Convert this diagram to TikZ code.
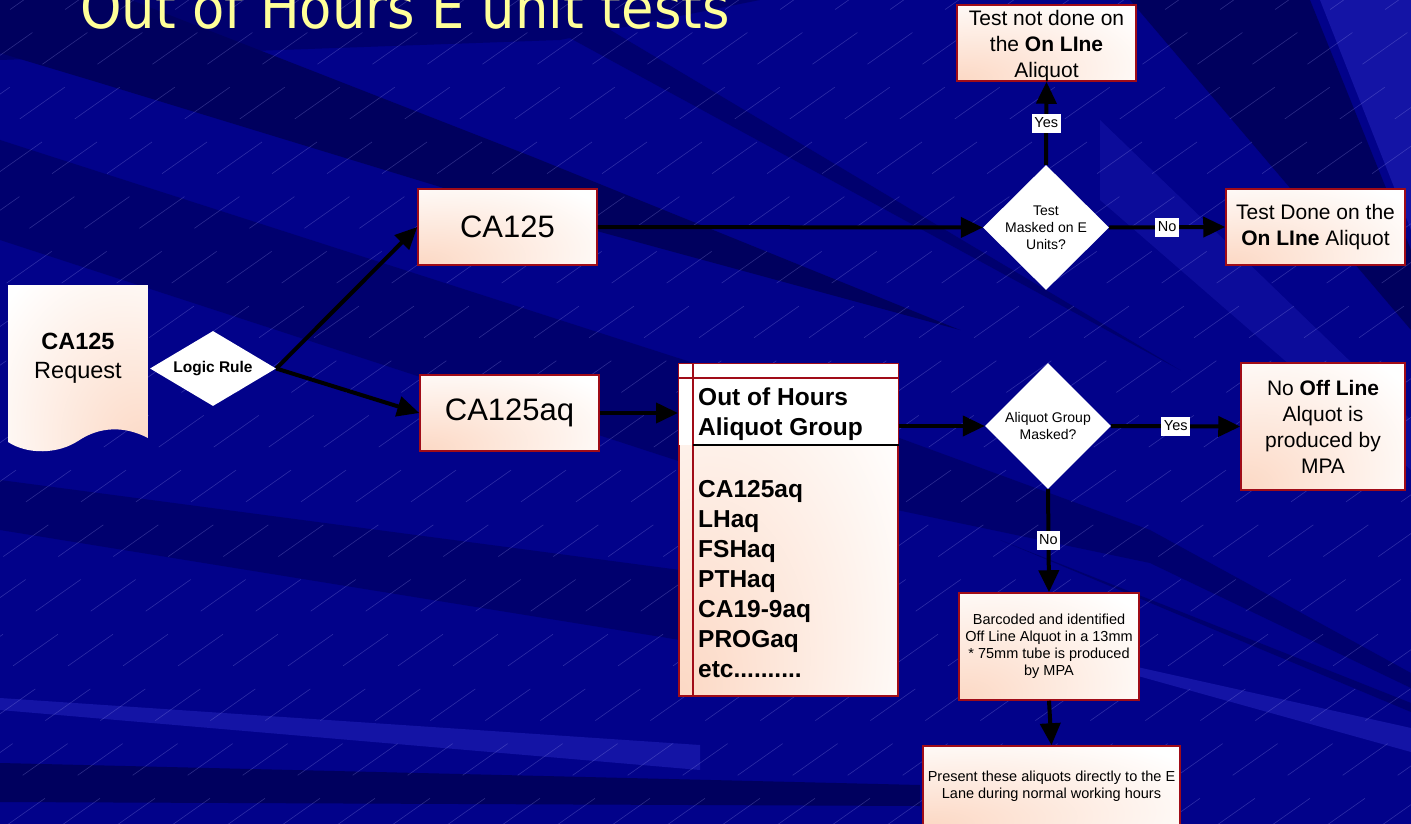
\documentclass[tikz,border=0pt]{standalone}
\usepackage{fontspec}
\setmainfont{Liberation Sans}
\newfontfamily\headfont{DejaVu Sans}
\usetikzlibrary{shapes.geometric,arrows.meta}

\definecolor{bgmid}{RGB}{2,2,138}
\definecolor{bgdark}{RGB}{0,0,110}
\definecolor{bgdeep}{RGB}{0,0,94}
\definecolor{bglite}{RGB}{20,20,165}
\definecolor{streak}{RGB}{160,160,240}
\definecolor{peach}{RGB}{252,216,196}
\definecolor{boxred}{RGB}{160,12,24}
\definecolor{titleyellow}{RGB}{255,255,153}

% soft peach glow from one corner of a box
\pgfdeclareradialshading{glowbl}{\pgfpoint{-25bp}{-25bp}}{color(0bp)=(peach); color(48bp)=(white); color(100bp)=(white)}
\pgfdeclareradialshading{glowbr}{\pgfpoint{25bp}{-25bp}}{color(0bp)=(peach); color(50bp)=(white); color(100bp)=(white)}

\tikzset{
  box/.style={rectangle, draw=boxred, line width=1.5pt, shade, shading=glowbl,
              inner sep=2pt, align=center, text=black},
  dia/.style={diamond, fill=white, inner sep=0pt},
  dtxt/.style={align=center, font=\fontsize{14}{17}\selectfont, inner sep=0pt},
  flow/.style={line width=4pt, -{Triangle[length=22pt,width=20pt]}},
  lbl/.style={fill=white, inner xsep=2.5pt, inner ysep=3pt, text height=10.5pt,
              text depth=3pt, font=\fontsize{14.5}{16}\selectfont},
  listtxt/.style={font=\bfseries\fontsize{24.5}{30}\selectfont, inner sep=0pt, anchor=base west},
  bigtxt/.style={font=\fontsize{21}{26}\selectfont},
  smalltxt/.style={font=\fontsize{14.5}{17}\selectfont},
  streaks/.style={draw=streak, line width=0.6pt, opacity=0.28, dash pattern=on 55pt off 40pt},
}

\begin{document}
\begin{tikzpicture}[x=1pt,y=-1pt]
\useasboundingbox (0,0) rectangle (1411,824);

% backdrop: navy with darker and lighter swathes and fine diagonal hatching
\begin{scope}
  \clip (0,0) rectangle (1411,824);
  \fill[bgmid] (0,0) rectangle (1411,824);
  \fill[bgdark] (0,0) -- (760,0) -- (560,40) -- (0,60) -- cycle;
  \fill[bgdeep] (0,0) -- (131,0) -- (533,157) -- (960,330) -- (483,200) -- (100,83) -- (0,53) -- cycle;
  \fill[bgdark] (500,0) -- (560,0) -- (1180,370) -- cycle;
  \fill[bgdark] (0,140) -- (706,367) -- (1150,530) -- (1411,673) -- (1411,688) -- (1150,563) -- (706,470) -- (0,240) -- cycle;
  \fill[bgdark] (1000,540) -- (1411,703) -- (1411,712) -- cycle;
  \fill[bgdark] (0,480) -- (680,570) -- (680,640) -- (0,530) -- cycle;
  \fill[bglite] (0,698) -- (700,745) -- (700,770) -- (0,710) -- cycle;
  \fill[bgdeep] (0,763) -- (920,785) -- (920,806) -- (0,802) -- cycle;
  \fill[bglite] (980,632) -- (1411,728) -- (1411,752) -- cycle;
  \fill[bgdeep] (1130,0) -- (1310,0) -- (1411,250) -- (1411,330) -- cycle;
  \fill[bglite] (1320,0) -- (1411,0) -- (1411,230) -- cycle;
  \fill[bglite, opacity=0.6] (1100,120) -- (1411,420) -- (1411,470) -- (1100,200) -- cycle;
  \foreach \k in {-22,...,26} \draw[streaks] (\k*55,830) -- ++(1190,-838);
\end{scope}

% heading
\node[anchor=base west, inner sep=0pt, text=titleyellow,
      font=\headfont\fontsize{58}{60}\selectfont, xscale=0.91] (title) at (80,28.5) {Out of Hours E unit tests};

% request document
\path[shade, shading=glowbr] (8,285) -- (148,285) -- (148,438)
  .. controls (125,426) and (100,426) .. (78,441)
  .. controls (58,454) and (28,455) .. (8,442) -- cycle;
\node[align=center, inner sep=0pt, font=\fontsize{23.5}{29}\selectfont] (req) at (78,358) {\textbf{CA125}\\Request};

% logic rule decision
\node[dia, minimum width=126pt, minimum height=75pt] (logic) at (213,368.5) {};
\node[inner sep=0pt, font=\bfseries\fontsize{15.5}{18}\selectfont] (logictxt) at (logic) {Logic Rule};

% test codes
\node[box, minimum width=179pt, minimum height=76pt, font=\fontsize{31}{36}\selectfont] (ca) at (507.5,227) {CA125};
\node[box, minimum width=179pt, minimum height=76pt, font=\fontsize{31}{36}\selectfont] (caaq) at (509.5,413) {CA125aq};

% aliquot group list
\node[box, minimum width=219pt, minimum height=332pt, anchor=north west] (list) at (678,363) {};
\fill[white] ([xshift=0.8pt,yshift=-0.8pt]list.north west) rectangle ([xshift=-0.8pt,yshift=-82pt]list.north east);
\draw[boxred, line width=1.5pt] ([xshift=15pt]list.north west) -- ([xshift=15pt]list.south west);
\draw[boxred, line width=1.5pt] ([yshift=-15pt]list.north west) -- ([yshift=-15pt]list.north east);
\draw[black, line width=1.2pt] ([xshift=15pt,yshift=-82pt]list.north west) -- ([yshift=-82pt]list.north east);
\node[listtxt] (head1) at (698,405) {Out of Hours};
\node[listtxt] (head2) at (698,435.5) {Aliquot Group};
\node[listtxt] (item1) at (698,497.5) {CA125aq};
\node[listtxt] (item2) at (698,527.5) {LHaq};
\node[listtxt] (item3) at (698,557.5) {FSHaq};
\node[listtxt] (item4) at (698,587.5) {PTHaq};
\node[listtxt] (item5) at (698,617.5) {CA19-9aq};
\node[listtxt] (item6) at (698,647.5) {PROGaq};
\node[listtxt] (item7) at (698,677.5) {etc..........};

% on-line aliquot decision
\node[dia, minimum width=126pt, minimum height=125pt] (mask) at (1046,227.5) {};
\node[dtxt] (masktxt) at (mask) {Test\\Masked on E\\Units?};
\node[box, minimum width=179pt, minimum height=76pt] (notdone) at (1046.5,43) {};
\node[bigtxt, align=center, inner sep=0pt] (notdonetxt) at (1046.5,46) {Test not done on\\the \textbf{On LIne}\\Aliquot};
\node[box, bigtxt, minimum width=179pt, minimum height=76pt] (done) at (1315.5,227) {Test Done on the\\\textbf{On LIne} Aliquot};

% off-line aliquot decision
\node[dia, minimum width=126pt, minimum height=126pt] (mask2) at (1048,426) {};
\node[dtxt] (mask2txt) at (mask2) {Aliquot Group\\Masked?};
\node[box, bigtxt, minimum width=164pt, minimum height=127pt] (nooff) at (1323,426.5) {No \textbf{Off Line}\\Alquot is\\produced by\\MPA};
\node[box, smalltxt, minimum width=180pt, minimum height=107pt] (barcode) at (1049,646.5) {Barcoded and identified\\Off Line Alquot in a 13mm\\* 75mm tube is produced\\by MPA};
\node[box, smalltxt, minimum width=257pt, minimum height=80pt] (present) at (1051.5,786) {Present these aliquots directly to the E\\Lane during normal working hours};

% connectors
\draw[flow] (logic.east) -- (ca.west);
\draw[flow] (logic.east) -- (caaq.west);
\draw[flow] (caaq.east) -- (caaq.east -| list.west);
\draw[flow] (ca.east) -- (mask.west);
\draw[flow] (mask.north) -- node[lbl] (yes1) {Yes} (notdone.south);
\draw[flow] (mask.east) -- node[lbl] (no1) {No} (done.west);
\draw[flow] (mask2.west -| list.east) -- (mask2.west);
\draw[flow] (mask2.east) -- node[lbl] (yes2) {Yes} (nooff.west);
\draw[flow] (mask2.south) -- node[lbl] (no2) {No} (barcode.north);
\draw[flow] (barcode.south) -- (present.north);
\end{tikzpicture}
\end{document}
